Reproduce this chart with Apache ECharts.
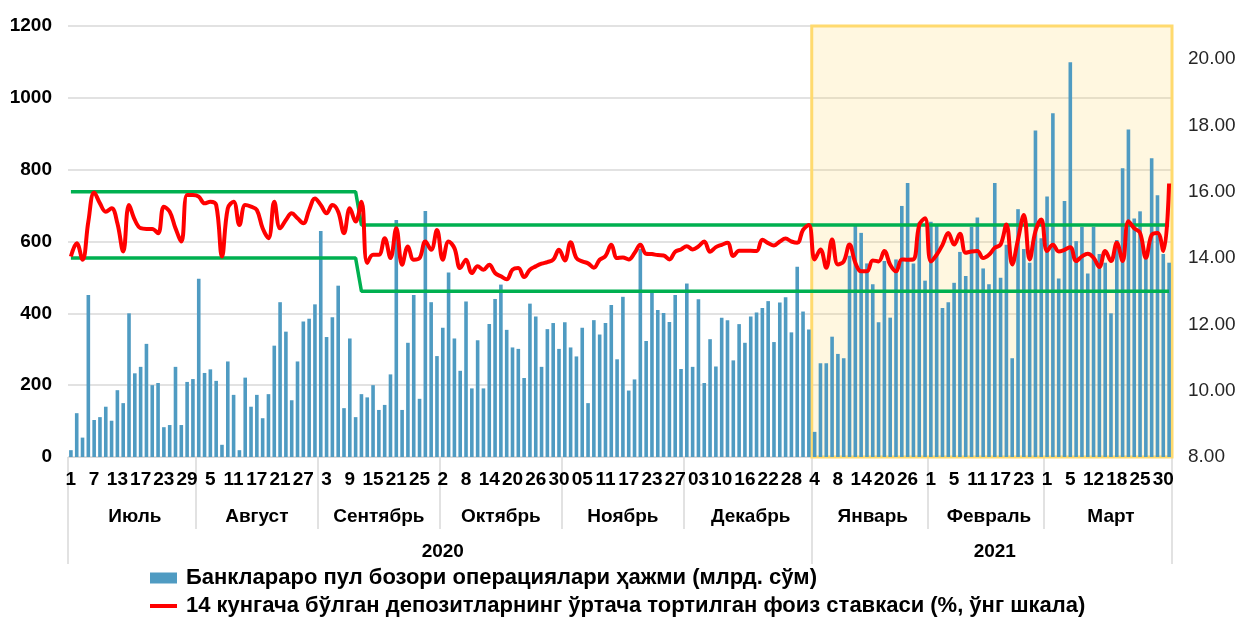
<!DOCTYPE html>
<html>
<head>
<meta charset="utf-8">
<script src="https://cdn.jsdelivr.net/npm/echarts@6/dist/echarts.min.js"></script>
<style>
html, body { margin: 0; padding: 0; background: #fff; }
#chart { width: 1242px; height: 619px; }
</style>
</head>
<body>
<div id="chart"></div>
<script>
// categories: trading days, grouped by month and year
var months = ['Июль', 'Август', 'Сентябрь', 'Октябрь', 'Ноябрь', 'Декабрь', 'Январь', 'Февраль', 'Март'];
var years = ['2020', '2021'];
var monthsPerYear = [6, 3];
var days = [
    ['1','2','3','6','7','8','9','10','13','14','15','16','17','20','21','22','23','24','27','28','29','30'],
    ['3','4','5','6','7','10','11','12','13','14','17','18','19','20','21','24','25','26','27','28','31'],
    ['2','3','4','7','8','9','10','11','14','15','16','17','18','21','22','23','24','25','28','29','30'],
    ['2','5','6','7','8','9','12','13','14','15','16','19','20','21','22','23','26','27','28','29','30'],
    ['02','03','04','05','06','09','10','11','12','13','16','17','18','19','20','23','24','25','26','27','30'],
    ['01','02','03','04','07','09','10','11','14','15','16','17','18','21','22','23','24','25','28','29','30','31'],
    ['4','5','6','7','8','11','12','13','14','15','18','19','20','21','22','25','26','27','28','29'],
    ['1','2','3','4','5','8','9','10','11','12','15','16','17','18','19','22','23','24','25','26'],
    ['1','2','3','4','5','9','10','11','12','15','16','17','18','19','23','24','25','26','27','29','30','31']
];

// interbank money market volume, bn soum (left scale)
var volume = [
    19, 122, 54, 451, 103, 111, 140, 101, 186, 150, 400, 233, 251, 315, 200, 206, 83, 89, 251, 89, 209, 217,
    496, 234, 244, 212, 34, 266, 173, 19, 221, 140, 173, 108, 175, 310, 431, 349, 158, 266, 377, 385, 425,
    629, 334, 389, 477, 136, 330, 111, 175, 166, 200, 131, 145, 230, 660, 131, 318, 451, 162, 685, 431, 281,
    360, 514, 330, 240, 433, 191, 325, 191, 370, 440, 480, 354, 305, 301, 220, 427, 391, 251, 356, 373, 301,
    375, 305, 280, 360, 150, 381, 341, 373, 423, 272, 446, 185, 216, 579, 323, 458, 409, 401, 376, 451, 245,
    483, 251, 439, 206, 328, 252, 388, 381, 269, 370, 318, 391, 402, 415, 434, 320, 430, 445, 347, 530, 405, 355,
    70, 261, 261, 335, 287, 275, 560, 643, 624, 539, 481, 375, 546, 388, 550, 699, 763, 539, 653, 491,
    655, 643, 415, 431, 485, 571, 504, 641, 667, 525, 481, 763, 499, 591, 275, 690, 579, 541, 909, 609,
    725, 957, 497, 713, 1099, 601, 641, 511, 641, 565, 541, 400, 604, 804, 912, 664, 684, 567, 832, 729, 565, 541
];

// weighted average rate on deposits up to 14 days, % (right scale)
var rate = [
    14.05, 14.45, 13.95, 15.1, 15.98, 15.65, 15.4, 15.5, 15.05, 14.2, 15.6, 15.15, 14.9, 14.88, 14.88, 14.75, 15.55, 15.4, 14.9, 14.5, 15.9, 15.9,
    15.85, 15.65, 15.7, 15.6, 14.05, 15.5, 15.7, 15.0, 15.6, 15.55, 15.45, 14.9, 14.6, 15.7, 14.9, 15.15, 15.35, 15.2, 15.05, 15.45, 15.8,
    15.6, 15.35, 15.6, 15.4, 14.75, 15.5, 15.1, 15.7, 13.85, 14.1, 14.1, 14.6, 14.0, 14.9, 13.8, 14.35, 13.95, 14.0, 14.5, 14.25, 14.85,
    13.95, 14.5, 14.3, 13.7, 13.95, 13.55, 13.75, 13.65, 13.8, 13.55, 13.45, 13.36, 13.65, 13.7, 13.43, 13.65, 13.75, 13.83, 13.88, 13.95, 14.25,
    13.93, 14.48, 14.0, 13.9, 13.84, 13.71, 13.95, 14.06, 14.4, 14.0, 14.02, 13.96, 14.15, 14.4, 14.13, 14.12, 14.09, 14.08, 13.96, 14.19, 14.26,
    14.36, 14.26, 14.35, 14.5, 14.19, 14.33, 14.4, 14.46, 14.06, 14.22, 14.22, 14.22, 14.21, 14.55, 14.45, 14.38, 14.5, 14.59, 14.5, 14.46, 14.85, 15.0,
    13.96, 14.26, 13.71, 14.56, 13.81, 13.9, 14.41, 13.86, 13.6, 13.6, 13.93, 13.9, 14.21, 13.8, 13.6, 13.96, 13.95, 13.96, 15.0, 15.2,
    13.9, 14.1, 14.4, 14.76, 14.41, 14.73, 14.16, 14.2, 14.21, 14.0, 14.1, 14.31, 14.41, 15.01, 13.81, 14.56, 15.3, 13.96, 14.81, 15.16,
    14.21, 14.4, 14.2, 14.25, 14.33, 13.91, 14.05, 14.13, 14.01, 13.73, 14.21, 13.91, 14.46, 13.91, 15.11, 14.9, 14.76, 14.01, 14.7, 14.76, 14.21, 16.25
];

// interest rate corridor (upper / lower bound), before and after the Sep 11 2020 cut
var corridorUpper = [16, 15];
var corridorLower = [14, 13];
var corridorCutDay = { month: 2, day: '11' };

var barName = 'Банклараро пул бозори операциялари ҳажми (млрд. сўм)';
var lineName = '14 кунгача бўлган депозитларнинг ўртача тортилган фоиз ставкаси (%, ўнг шкала)';

// flatten the grouped categories
var dayLabels = [], monthLabels = [], yearLabels = [];
var monthStarts = {}, yearStarts = {};
var cutIndex = 0;
var m = 0;
years.forEach(function (y, yi) {
    var yearFirst = dayLabels.length;
    var yearLen = 0;
    for (var k = 0; k < monthsPerYear[yi]; k++, m++) {
        monthStarts[dayLabels.length] = true;
        days[m].forEach(function (d, di) {
            if (m === corridorCutDay.month && d === corridorCutDay.day) cutIndex = dayLabels.length;
            dayLabels.push(d);
            monthLabels.push(di === Math.floor(days[m].length / 2) ? months[m] : '');
        });
        yearLen += days[m].length;
    }
    yearStarts[yearFirst] = true;
    for (var j = 0; j < yearLen; j++) {
        yearLabels.push(j === Math.floor(yearLen / 2) ? y : '');
    }
});
var dayCount = dayLabels.length;
var janStart = days.slice(0, monthsPerYear[0]).reduce(function (s, a) { return s + a.length; }, 0);

var upper = dayLabels.map(function (d, i) { return i < cutIndex ? corridorUpper[0] : corridorUpper[1]; });
var lower = dayLabels.map(function (d, i) { return i < cutIndex ? corridorLower[0] : corridorLower[1]; });

var font = 'Liberation Sans, Arial, sans-serif';
var gridGray = '#D9D9D9';

var myChart = echarts.init(document.getElementById('chart'));
var option = {
    backgroundColor: '#fff',
    animation: false,
    textStyle: { fontFamily: font },
    grid: { left: 68, right: 70, top: 26, bottom: 162, containLabel: false },
    legend: {
        data: [
            { name: barName, icon: 'rect' },
            // thin red stroke (the hairline on the left only keeps the box height)
            { name: lineName, icon: 'path://M0,0h0.01v11h-0.01zM0,3.5h27v4h-27z' }
        ],
        orient: 'vertical',
        left: 150,
        bottom: 2,
        padding: 0,
        itemGap: 6,
        itemWidth: 27,
        itemHeight: 11,
        selectedMode: false,
        textStyle: { fontFamily: font, fontSize: 22, fontWeight: 'bold', color: '#000', padding: [0, 0, 0, 4] }
    },
    xAxis: [
        {
            type: 'category',
            data: dayLabels,
            position: 'bottom',
            axisLine: { lineStyle: { color: gridGray, width: 1 } },
            axisTick: { show: false },
            axisLabel: { interval: 3, margin: 13, fontFamily: font, fontSize: 19, fontWeight: 'bold', color: '#000' }
        },
        {
            type: 'category',
            data: monthLabels,
            position: 'bottom',
            axisLine: { show: false },
            axisTick: {
                show: true,
                length: 72,
                interval: function (i) { return !!monthStarts[i]; },
                lineStyle: { color: gridGray, width: 1.5 }
            },
            axisLabel: {
                interval: function (i, v) { return v !== ''; },
                margin: 50, fontFamily: font, fontSize: 19, fontWeight: 'bold', color: '#000'
            }
        },
        {
            type: 'category',
            data: yearLabels,
            position: 'bottom',
            axisLine: { show: false },
            axisTick: {
                show: true,
                length: 107,
                interval: function (i) { return !!yearStarts[i]; },
                lineStyle: { color: gridGray, width: 1.5 }
            },
            axisLabel: {
                interval: function (i, v) { return v !== ''; },
                margin: 85, fontFamily: font, fontSize: 19, fontWeight: 'bold', color: '#000'
            }
        },
        {
            // plain index scale, used to place the 2021 highlight box
            type: 'value',
            min: 0,
            max: dayCount,
            position: 'top',
            show: false
        }
    ],
    yAxis: [
        {
            type: 'value',
            min: 0,
            max: 1200,
            interval: 200,
            axisLine: { show: false },
            axisTick: { show: false },
            splitLine: { lineStyle: { color: gridGray, width: 1.5 } },
            axisLabel: {
                margin: 16, fontFamily: font, fontSize: 19, fontWeight: 'bold', color: '#000',
                formatter: function (v) { return String(v); }
            }
        },
        {
            type: 'value',
            position: 'right',
            min: 8,
            max: 21,
            interval: 2,
            axisLine: { show: false },
            axisTick: { show: false },
            splitLine: { show: false },
            axisLabel: {
                margin: 16, showMaxLabel: false, fontFamily: font, fontSize: 19, color: '#262626',
                formatter: function (v) { return v.toFixed(2); }
            }
        }
    ],
    series: [
        {
            name: barName,
            type: 'bar',
            xAxisIndex: 0,
            yAxisIndex: 0,
            barCategoryGap: '38%',
            itemStyle: { color: '#4F9BC2' },
            z: 2,
            data: volume
        },
        {
            name: '2021',
            type: 'line',
            xAxisIndex: 3,
            yAxisIndex: 0,
            data: [],
            z: 3,
            markArea: {
                silent: true,
                itemStyle: { color: 'rgba(255, 214, 100, 0.2)', borderColor: '#FFDA6E', borderWidth: 3 },
                data: [[{ xAxis: janStart, yAxis: 0 }, { xAxis: dayCount, yAxis: 1200 }]]
            }
        },
        {
            name: 'upper',
            type: 'line',
            xAxisIndex: 0,
            yAxisIndex: 1,
            symbol: 'none',
            lineStyle: { color: '#00B050', width: 3.5 },
            z: 4,
            data: upper
        },
        {
            name: 'lower',
            type: 'line',
            xAxisIndex: 0,
            yAxisIndex: 1,
            symbol: 'none',
            lineStyle: { color: '#00B050', width: 3.5 },
            z: 4,
            data: lower
        },
        {
            name: lineName,
            type: 'line',
            xAxisIndex: 0,
            yAxisIndex: 1,
            symbol: 'none',
            smooth: 0.4,
            itemStyle: { color: '#FF0000' },
            lineStyle: { color: '#FF0000', width: 4 },
            z: 5,
            data: rate
        }
    ]
};
myChart.setOption(option);
</script>
</body>
</html>
